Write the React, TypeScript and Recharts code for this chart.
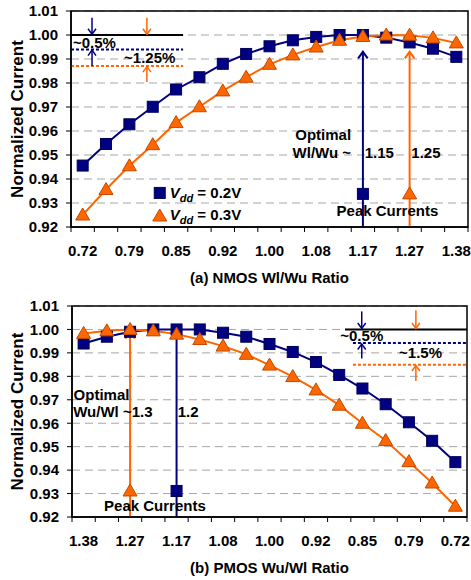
import {
  CartesianGrid,
  ComposedChart,
  Line,
  ReferenceArea,
  ReferenceDot,
  ReferenceLine,
  XAxis,
  YAxis,
} from "recharts"

// (a) NMOS Wl/Wu sweep
const nmosRatios = ["0.72", "0.75", "0.79", "0.82", "0.85", "0.89", "0.92", "0.96", "1.00", "1.04", "1.08", "1.12", "1.17", "1.22", "1.27", "1.32", "1.38"]
const nmosVdd02 = [0.9456, 0.9546, 0.9628, 0.9701, 0.9773, 0.9824, 0.988, 0.9921, 0.9953, 0.9978, 0.9992, 1.0, 1.0, 0.9989, 0.9969, 0.9943, 0.9909]
const nmosVdd03 = [0.925, 0.9356, 0.9455, 0.9543, 0.9635, 0.9701, 0.9767, 0.9824, 0.9878, 0.9917, 0.995, 0.9978, 0.9994, 1.0, 0.9999, 0.9988, 0.9967]

// (b) PMOS Wu/Wl sweep
const pmosRatios = ["1.38", "1.32", "1.27", "1.22", "1.17", "1.12", "1.08", "1.04", "1.00", "0.96", "0.92", "0.89", "0.85", "0.82", "0.79", "0.75", "0.72"]
const pmosVdd02 = [0.994, 0.9969, 0.999, 1.0, 1.0, 1.0, 0.9986, 0.9969, 0.9938, 0.9904, 0.9861, 0.9806, 0.9748, 0.9681, 0.9604, 0.9525, 0.9434]
const pmosVdd03 = [0.9983, 0.9994, 1.0, 0.9994, 0.998, 0.9957, 0.9929, 0.9894, 0.9848, 0.9799, 0.9742, 0.9677, 0.96, 0.9526, 0.9436, 0.9345, 0.9246]

const yTicks = [0.92, 0.93, 0.94, 0.95, 0.96, 0.97, 0.98, 0.99, 1.0, 1.01]

const FONT = "'Liberation Sans', Arial, Helvetica, sans-serif"
const NAVY = "#000080"
const ORANGE = "#ff6600"

const toRows = (labels: string[], a: number[], b: number[]) =>
  labels.map((label, i) => ({ x: i, label, v02: a[i], v03: b[i] }))

// label ticks on every other category, tick marks on the category borders
const xTicksFor = (n: number) => {
  const t: number[] = []
  for (let i = 0; i <= n; i++) {
    t.push(i - 0.5)
    if (i < n && i % 2 === 0) t.push(i)
  }
  return t
}

const square = (props: any) => {
  const { cx, cy } = props
  if (cx == null || cy == null) return <g />
  return <rect x={cx - 5.5} y={cy - 5.5} width={11} height={11} fill={NAVY} stroke="#00005a" strokeWidth={1} />
}

const triangle = (props: any) => {
  const { cx, cy } = props
  if (cx == null || cy == null) return <g />
  return (
    <polygon
      points={`${cx},${cy - 7} ${cx + 7},${cy + 5} ${cx - 7},${cy + 5}`}
      fill={ORANGE}
      stroke="#c04a00"
      strokeWidth={1}
    />
  )
}

const arrow = (color: string, w: number, head = 6) => (p: any) => {
  const { x1, y1, x2, y2 } = p
  const dir = y2 > y1 ? 1 : -1
  return (
    <g>
      <line x1={x1} y1={y1} x2={x2} y2={y2} stroke={color} strokeWidth={w} />
      <polyline
        points={`${x2 - head * 0.8},${y2 - dir * head * 1.1} ${x2},${y2} ${x2 + head * 0.8},${y2 - dir * head * 1.1}`}
        fill="none"
        stroke={color}
        strokeWidth={w}
      />
    </g>
  )
}

const note = (text: string, anchor: "start" | "middle" | "end" = "middle") => (p: any) => (
  <text
    x={p.cx}
    y={p.cy}
    dy="0.36em"
    textAnchor={anchor}
    fontFamily={FONT}
    fontWeight="bold"
    fontSize={15}
    fill="#000"
  >
    {text}
  </text>
)

const legendEntry = (kind: "sq" | "tri", value: string) => (p: any) => {
  const { cx, cy } = p
  return (
    <g>
      {kind === "sq" ? square({ cx, cy }) : triangle({ cx, cy: cy + 1 })}
      <text x={cx + 10} y={cy} dy="0.36em" fontFamily={FONT} fontWeight="bold" fontSize={15} fill="#000">
        <tspan fontStyle="italic">V</tspan>
        <tspan fontStyle="italic" fontSize={11} dy={4}>
          dd
        </tspan>
        <tspan dy={-4}>{` = ${value}`}</tspan>
      </text>
    </g>
  )
}

const makeXTick = (labels: string[]) => (props: any) => {
  const { x, y, payload } = props
  const v = payload.value
  if (Number.isInteger(v)) {
    return (
      <text x={x} y={y + 29} textAnchor="middle" fontFamily={FONT} fontWeight="bold" fontSize={15} fill="#000">
        {labels[v]}
      </text>
    )
  }
  return <line x1={x} x2={x} y1={y} y2={y + 5} stroke="#000" strokeWidth={1} />
}

const yLabel = (props: any) => {
  const { viewBox } = props
  const cx = viewBox.x + 17
  const cy = viewBox.y + viewBox.height / 2
  return (
    <text
      x={cx}
      y={cy}
      transform={`rotate(-90, ${cx}, ${cy})`}
      textAnchor="middle"
      dy="0.36em"
      fontFamily={FONT}
      fontWeight="bold"
      fontSize={17}
      fill="#000"
    >
      Normalized Current
    </text>
  )
}

const xLabel = (title: string) => (props: any) => {
  const { viewBox } = props
  return (
    <text
      x={viewBox.x + viewBox.width / 2}
      y={viewBox.y + 56}
      textAnchor="middle"
      fontFamily={FONT}
      fontWeight="bold"
      fontSize={15}
      fill="#000"
    >
      {title}
    </text>
  )
}

function Panel({
  labels,
  a,
  b,
  title,
  marginTop,
  marginRight,
  yWidth,
  children,
}: {
  labels: string[]
  a: number[]
  b: number[]
  title: string
  marginTop: number
  marginRight: number
  yWidth: number
  children?: any
}) {
  const rows = toRows(labels, a, b)
  const n = labels.length
  return (
    <ComposedChart width={471} height={290} data={rows} margin={{ top: marginTop, right: marginRight, left: 0, bottom: 0 }}>
      <CartesianGrid vertical={false} stroke="#a6a6a6" strokeDasharray="8 5" />
      <XAxis
        dataKey="x"
        type="number"
        domain={[-0.5, n - 0.5]}
        ticks={xTicksFor(n)}
        interval={0}
        tickSize={0}
        tickMargin={0}
        tick={makeXTick(labels)}
        axisLine={{ stroke: "#000", strokeWidth: 1.5 }}
        height={63}
        label={{ content: xLabel(title) }}
      />
      <YAxis
        type="number"
        domain={[0.92, 1.01]}
        ticks={yTicks}
        interval={0}
        width={yWidth}
        tickSize={5}
        tickMargin={8}
        tickLine={{ stroke: "#000" }}
        axisLine={{ stroke: "#000", strokeWidth: 1.5 }}
        tickFormatter={(v: number) => v.toFixed(2)}
        tick={{ fontFamily: FONT, fontWeight: "bold", fontSize: 15, fill: "#000" }}
        label={{ content: yLabel }}
      />
      <ReferenceArea x1={-0.5} x2={n - 0.5} y1={0.92} y2={1.01} fill="none" stroke="#000" strokeWidth={1.5} />
      {children}
      <Line dataKey="v02" stroke={NAVY} strokeWidth={2} dot={square} activeDot={false} isAnimationActive={false} />
      <Line dataKey="v03" stroke={ORANGE} strokeWidth={2} dot={triangle} activeDot={false} isAnimationActive={false} />
    </ComposedChart>
  )
}

export default function App() {
  return (
    <div style={{ position: "absolute", left: 0, top: 0, width: 471, height: 580, background: "#fff" }}>
      <Panel labels={nmosRatios} a={nmosVdd02} b={nmosVdd03} title="(a) NMOS Wl/Wu Ratio" marginTop={11} marginRight={3} yWidth={71}>
        {/* spread markers, top left */}
        <ReferenceLine segment={[{ x: -0.5, y: 1.0 }, { x: 4.3, y: 1.0 }]} stroke="#000" strokeWidth={2} />
        <ReferenceLine segment={[{ x: -0.5, y: 0.994 }, { x: 4.3, y: 0.994 }]} stroke={NAVY} strokeWidth={2} strokeDasharray="3 2" />
        <ReferenceLine segment={[{ x: -0.5, y: 0.9871 }, { x: 4.3, y: 0.9871 }]} stroke={ORANGE} strokeWidth={2} strokeDasharray="3 2" />
        <ReferenceLine segment={[{ x: 0.4, y: 1.0072 }, { x: 0.4, y: 1.0003 }]} shape={arrow(NAVY, 1.5, 5)} />
        <ReferenceLine segment={[{ x: 0.4, y: 0.9871 }, { x: 0.4, y: 0.9937 }]} shape={arrow(NAVY, 1.5, 5)} />
        <ReferenceLine segment={[{ x: 2.75, y: 1.0072 }, { x: 2.75, y: 1.0003 }]} shape={arrow(ORANGE, 1.5, 5)} />
        <ReferenceLine segment={[{ x: 2.75, y: 0.9804 }, { x: 2.75, y: 0.9868 }]} shape={arrow(ORANGE, 1.5, 5)} />
        <ReferenceDot x={0.5} y={0.9967} r={0} shape={note("~0.5%")} />
        <ReferenceDot x={2.87} y={0.9904} r={0} shape={note("~1.25%")} />
        {/* legend */}
        <ReferenceDot x={3.3} y={0.9342} r={0} shape={legendEntry("sq", "0.2V")} />
        <ReferenceDot x={3.3} y={0.925} r={0} shape={legendEntry("tri", "0.3V")} />
        {/* optimum markers */}
        <ReferenceLine segment={[{ x: 12, y: 0.92 }, { x: 12, y: 0.993 }]} shape={arrow(NAVY, 2, 6)} />
        <ReferenceLine segment={[{ x: 14, y: 0.92 }, { x: 14, y: 0.993 }]} shape={arrow(ORANGE, 2, 6)} />
        <ReferenceDot x={12} y={0.9338} r={0} shape={square} />
        <ReferenceDot x={14} y={0.9338} r={0} shape={triangle} />
        <ReferenceDot x={10.3} y={0.9583} r={0} shape={note("Optimal")} />
        <ReferenceDot x={10.24} y={0.9512} r={0} shape={note("Wl/Wu ~")} />
        <ReferenceDot x={12.7} y={0.9512} r={0} shape={note("1.15")} />
        <ReferenceDot x={14.7} y={0.9512} r={0} shape={note("1.25")} />
        <ReferenceDot x={13.05} y={0.9267} r={0} shape={note("Peak Currents")} />
      </Panel>
      <Panel labels={pmosRatios} a={pmosVdd02} b={pmosVdd03} title="(b) PMOS Wu/Wl Ratio" marginTop={16} marginRight={4} yWidth={72}>
        {/* spread markers, top right */}
        <ReferenceLine segment={[{ x: 11.25, y: 1.0 }, { x: 16.5, y: 1.0 }]} stroke="#000" strokeWidth={2} />
        <ReferenceLine segment={[{ x: 11.59, y: 0.9942 }, { x: 16.5, y: 0.9942 }]} stroke={NAVY} strokeWidth={2} strokeDasharray="3 2" />
        <ReferenceLine segment={[{ x: 11.59, y: 0.9849 }, { x: 16.5, y: 0.9849 }]} stroke={ORANGE} strokeWidth={2} strokeDasharray="3 2" />
        <ReferenceLine segment={[{ x: 11.97, y: 1.0077 }, { x: 11.97, y: 1.0004 }]} shape={arrow(NAVY, 1.5, 5)} />
        <ReferenceLine segment={[{ x: 11.97, y: 0.9876 }, { x: 11.97, y: 0.9938 }]} shape={arrow(NAVY, 1.5, 5)} />
        <ReferenceLine segment={[{ x: 14.3, y: 1.0082 }, { x: 14.3, y: 1.0004 }]} shape={arrow(ORANGE, 1.5, 5)} />
        <ReferenceLine segment={[{ x: 14.3, y: 0.978 }, { x: 14.3, y: 0.9846 }]} shape={arrow(ORANGE, 1.5, 5)} />
        <ReferenceDot x={11.97} y={0.9975} r={0} shape={note("~0.5%")} />
        <ReferenceDot x={14.5} y={0.99} r={0} shape={note("~1.5%")} />
        {/* optimum markers */}
        <ReferenceLine segment={[{ x: 2, y: 0.92 }, { x: 2, y: 0.9989 }]} shape={arrow(ORANGE, 2, 6)} />
        <ReferenceLine segment={[{ x: 4, y: 0.92 }, { x: 4, y: 0.9989 }]} shape={arrow(NAVY, 2, 6)} />
        <ReferenceDot x={2} y={0.9311} r={0} shape={triangle} />
        <ReferenceDot x={4} y={0.9311} r={0} shape={square} />
        <ReferenceDot x={0.77} y={0.972} r={0} shape={note("Optimal")} />
        <ReferenceDot x={1.26} y={0.9649} r={0} shape={note("Wu/Wl ~1.3")} />
        <ReferenceDot x={4.5} y={0.9649} r={0} shape={note("1.2")} />
        <ReferenceDot x={3.07} y={0.9247} r={0} shape={note("Peak Currents")} />
      </Panel>
    </div>
  )
}
